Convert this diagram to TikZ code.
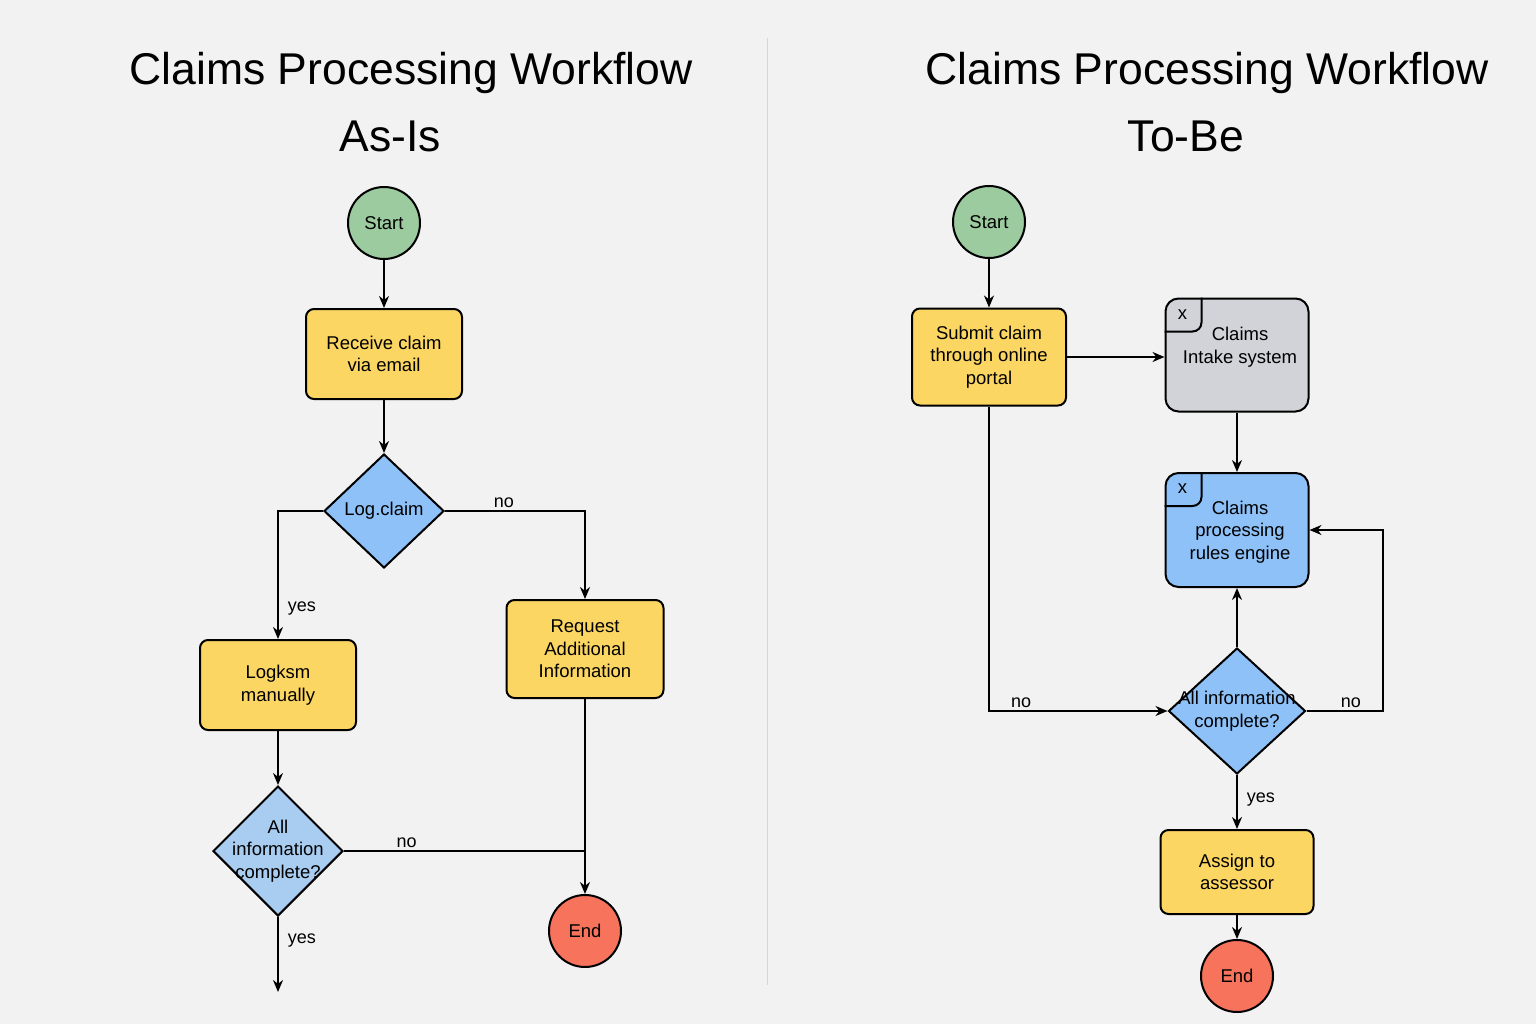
\documentclass[tikz,border=0pt]{standalone}
\usepackage{fontspec}
\setmainfont{Liberation Sans}
\usetikzlibrary{shapes.geometric,arrows.meta}
\definecolor{bggray}{HTML}{F2F2F2}
\definecolor{procyellow}{HTML}{FCD663}
\definecolor{startgreen}{HTML}{9CCB9F}
\definecolor{endred}{HTML}{F7735C}
\definecolor{decblue}{HTML}{8DC1F7}
\definecolor{declight}{HTML}{A9CDF0}
\definecolor{sysgray}{HTML}{D1D3D8}
\definecolor{divider}{HTML}{D6D6D6}
\newcommand{\lblfont}{\fontsize{18.5}{22.5}\selectfont}
\newcommand{\titlefont}{\fontsize{44.5}{52}\selectfont}
\tikzset{
	every node/.style={text=black},
	proc/.style={draw, line width=2pt, rounded corners=8pt, fill=procyellow, align=center, font=\lblfont, inner sep=0pt},
	sysbox/.style={draw, line width=2pt, rounded corners=13pt, align=center, font=\lblfont, inner sep=0pt, minimum width=143pt, minimum height=113pt},
	terminal/.style={draw, circle, line width=2pt, minimum size=72pt, inner sep=0pt, font=\lblfont},
	decision/.style={draw, diamond, line width=2pt, inner sep=0pt, font=\lblfont, align=center},
	flow/.style={line width=1.8pt, -{Stealth[length=12pt,width=10pt]}},
	plain/.style={line width=1.8pt},
	edgelbl/.style={font=\fontsize{18}{21}\selectfont, inner sep=2pt}
}
% small "x" tab in the corner of a system box
\newcommand{\xtab}[1]{%
	\draw[line width=2pt, rounded corners=9pt] ([yshift=-34pt]#1.north west) -- ++(37,0) -- ++(0,-34);
	\node[font=\lblfont, inner sep=0pt] at ([xshift=18pt,yshift=-17pt]#1.north west) {x};
}
\begin{document}
\begin{tikzpicture}[x=1pt,y=-1pt]
	\useasboundingbox[fill=bggray] (0,0) rectangle (1536,1024);
	\draw[divider, line width=1pt] (767,38) -- (767,985);

	% titles
	\node[font=\titlefont] (titleL) at (411,73) {Claims Processing Workflow};
	\node[font=\titlefont] (subL) at (390,136) {As-Is};
	\node[font=\titlefont] (titleR) at (1207,73) {Claims Processing Workflow};
	\node[font=\titlefont] (subR) at (1186,136) {To-Be};

	% as-is
	\node[terminal, fill=startgreen] (startL) at (384,223) {Start};
	\node[proc, minimum width=156pt, minimum height=90pt] (recvL) at (384,354) {Receive claim\\via email};
	\node[decision, fill=decblue, minimum width=120pt, minimum height=114pt,
		label={[font=\lblfont]center:Log.claim}] (logL) at (384,511) {};
	\node[proc, minimum width=157pt, minimum height=98pt] (reqL) at (585,649) {Request\\Additional\\Information};
	\node[proc, minimum width=156pt, minimum height=90pt] (manL) at (278,685) {Logksm\\manually};
	\node[decision, fill=declight, minimum width=130pt, minimum height=130pt,
		label={[font=\lblfont, align=center]center:All\\information\\complete?}] (chkL) at (278,851) {};
	\node[terminal, fill=endred] (endL) at (585,931) {End};
	\coordinate (outL) at (278,992);

	\draw[flow] (startL) -- (recvL);
	\draw[flow] (recvL) -- (logL);
	\draw[flow] (logL.west) -| node[edgelbl, pos=0.88, right=7pt] {yes} (manL.north);
	\draw[flow] (logL.east) -| node[edgelbl, pos=0.21, above] {no} (reqL.north);
	\draw[flow] (manL) -- (chkL);
	\draw[flow] (reqL.south) -- (endL.north);
	\draw[plain] (chkL.east) -- node[edgelbl, pos=0.26, above] {no} (chkL.east -| reqL.south);
	\draw[flow] (chkL.south) -- node[edgelbl, pos=0.32, right=7pt] {yes} (outL);

	% to-be
	\node[terminal, fill=startgreen] (startR) at (989,222) {Start};
	\node[proc, minimum width=154pt, minimum height=97pt] (subR) at (989,357) {Submit claim\\through online\\portal};
	\node[sysbox, fill=sysgray] (intakeR) at (1237,355) {};
	\node[font=\lblfont, align=center] (intakeT) at (1240,347) {Claims\\Intake system};
	\xtab{intakeR}
	\node[sysbox, fill=decblue, minimum height=114pt] (engineR) at (1237,530) {};
	\node[font=\lblfont, align=center] (engineT) at (1240,532) {Claims\\processing\\rules engine};
	\xtab{engineR}
	\node[decision, fill=decblue, minimum width=137pt, minimum height=126pt,
		label={[font=\lblfont, align=center]center:All information\\complete?}] (chkR) at (1237,711) {};
	\node[proc, minimum width=153pt, minimum height=84pt] (assignR) at (1237,872) {Assign to\\assessor};
	\node[terminal, fill=endred] (endR) at (1237,976) {End};
	\coordinate (loopR) at (1383,711);

	\draw[flow] (startR) -- (subR);
	\draw[flow] (subR.east) -- (subR.east -| intakeR.west);
	\draw[flow] (intakeR) -- (engineR);
	\draw[flow] (chkR.north) -- (engineR.south);
	\draw[flow] (chkR.east) -- node[edgelbl, pos=0.58, above] {no} (loopR) |- (engineR.east);
	\draw[flow] (subR.south) |- node[edgelbl, pos=0.59, above] {no} (chkR.west);
	\draw[flow] (chkR.south) -- node[edgelbl, pos=0.46, right=7pt] {yes} (assignR.north);
	\draw[flow] (assignR) -- (endR);
\end{tikzpicture}
\end{document}
